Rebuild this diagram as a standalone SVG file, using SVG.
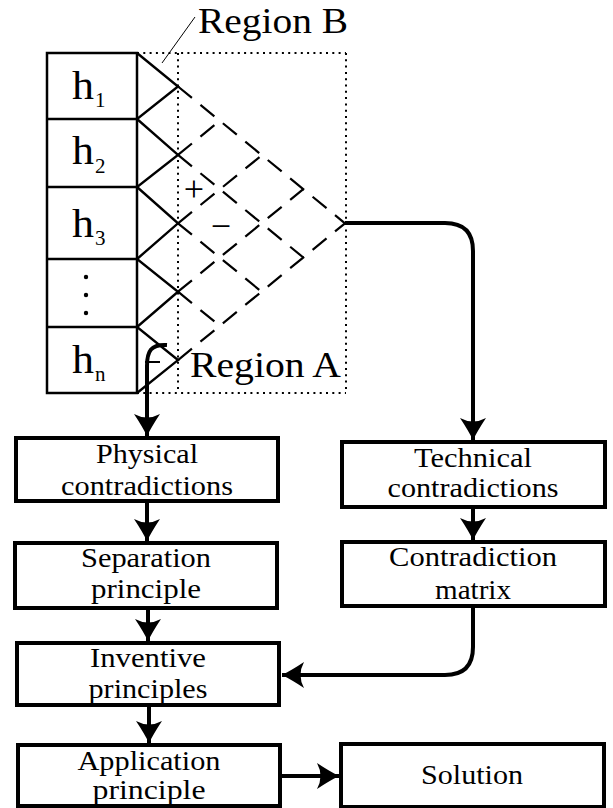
<svg xmlns="http://www.w3.org/2000/svg" width="613" height="808" viewBox="0 0 613 808">
<style>
text{font-family:"Liberation Serif",Tinos,"Times New Roman",Times,"DejaVu Serif",serif;fill:#000}
.box{fill:#fff;stroke:#000;stroke-width:4}
.lbl{font-size:27px;text-anchor:middle}
.big{font-size:35px}
.h{font-size:40px}
.sub{font-size:21px}
.sign{font-size:36px;text-anchor:middle}
.conn{fill:none;stroke:#000;stroke-width:4}
.dash{fill:none;stroke:#000;stroke-width:2.2;stroke-dasharray:18 11}
.dot{fill:none;stroke:#000;stroke-width:2;stroke-dasharray:2 4.3}
.solid{fill:none;stroke:#000;stroke-width:2.4}
</style>
<defs>
<marker id="ah" markerUnits="userSpaceOnUse" markerWidth="40" markerHeight="40" refX="30" refY="20" orient="auto">
<path d="M30,20 Q20,15 8,7 Q15,20 8,33 Q20,25 30,20 Z" fill="#000"/>
</marker>
</defs>
<rect width="613" height="808" fill="#fff"/>

<g id="regions">
<path class="dot" d="M137,53 H346 M178,53 V393 M346,53 V393 M137,393 H346"/>
<line x1="162" y1="63" x2="195" y2="17" stroke="#000" stroke-width="1"/>
<text class="big" x="198" y="33" textLength="150" lengthAdjust="spacingAndGlyphs">Region B</text>
<text class="big" x="190" y="377" textLength="151" lengthAdjust="spacingAndGlyphs">Region A</text>
</g>

<g id="lattice">
<path class="dash" d="M178,86.5 L345,223.3 M178,154.9 L303.3,257.5 M178,223.3 L261.5,291.7 M178,291.7 L219.8,325.9"/>
<path class="dash" d="M178,154.9 L219.8,120.7 M178,223.3 L261.5,155.5 M178,291.7 L303.3,189.1 M178,360.1 L345,223.3"/>
<text class="sign" x="194" y="201">+</text>
<text class="sign" x="221" y="238">−</text>
</g>

<g id="h-column">
<rect x="47" y="53" width="90" height="340" fill="#fff" stroke="#000" stroke-width="2.5"/>
<path d="M47,119 H137 M47,187 H137 M47,259 H137 M47,327 H137" stroke="#000" stroke-width="2.5"/>
<polyline class="solid" points="137,53 178,86.5 137,119 178,154.9 137,187 178,223.3 137,259 178,291.7 137,327 178,360.1 137,393"/>
<text class="h" x="72" y="99" textLength="22" lengthAdjust="spacingAndGlyphs">h</text><text class="sub" x="95" y="107">1</text>
<text class="h" x="72" y="164" textLength="22" lengthAdjust="spacingAndGlyphs">h</text><text class="sub" x="95" y="173">2</text>
<text class="h" x="72" y="237" textLength="22" lengthAdjust="spacingAndGlyphs">h</text><text class="sub" x="95" y="245">3</text>
<circle cx="86" cy="277" r="2.2"/><circle cx="86" cy="295" r="2.2"/><circle cx="86" cy="313" r="2.2"/>
<text class="h" x="72" y="373" textLength="22" lengthAdjust="spacingAndGlyphs">h</text><text class="sub" x="95" y="381">n</text>
</g>

<g id="physical"><rect class="box" x="16" y="438" width="262" height="63"/>
<text class="lbl" x="147" y="463" textLength="102" lengthAdjust="spacingAndGlyphs">Physical</text>
<text class="lbl" x="147" y="495" textLength="172" lengthAdjust="spacingAndGlyphs">contradictions</text></g>

<g id="technical"><rect class="box" x="342" y="442" width="263" height="65"/>
<text class="lbl" x="473" y="467" textLength="118" lengthAdjust="spacingAndGlyphs">Technical</text>
<text class="lbl" x="473" y="497" textLength="171" lengthAdjust="spacingAndGlyphs">contradictions</text></g>

<g id="separation"><rect class="box" x="15" y="543" width="262" height="65"/>
<text class="lbl" x="146" y="567" textLength="130" lengthAdjust="spacingAndGlyphs">Separation</text>
<text class="lbl" x="146" y="598" textLength="110" lengthAdjust="spacingAndGlyphs">principle</text></g>

<g id="contradiction-matrix"><rect class="box" x="342" y="542" width="263" height="64"/>
<text class="lbl" x="473" y="566" textLength="168" lengthAdjust="spacingAndGlyphs">Contradiction</text>
<text class="lbl" x="473" y="599" textLength="76" lengthAdjust="spacingAndGlyphs">matrix</text></g>

<g id="inventive"><rect class="box" x="17" y="643" width="262" height="62"/>
<text class="lbl" x="148" y="667" textLength="116" lengthAdjust="spacingAndGlyphs">Inventive</text>
<text class="lbl" x="148" y="698" textLength="119" lengthAdjust="spacingAndGlyphs">principles</text></g>

<g id="application"><rect class="box" x="18" y="745" width="262" height="61"/>
<text class="lbl" x="149" y="770" textLength="143" lengthAdjust="spacingAndGlyphs">Application</text>
<text class="lbl" x="149" y="799" textLength="113" lengthAdjust="spacingAndGlyphs">principle</text></g>

<g id="solution"><rect class="box" x="341" y="744" width="263" height="63"/>
<text class="lbl" x="472" y="784" textLength="102" lengthAdjust="spacingAndGlyphs">Solution</text></g>

<g id="connectors">
<path class="conn" d="M167,345 C151,344 147,351 147,366 L147,436" marker-end="url(#ah)"/>
<line x1="145" y1="362" x2="160" y2="362" stroke="#000" stroke-width="2"/>
<path class="conn" d="M147,501 L147,541" marker-end="url(#ah)"/>
<path class="conn" d="M148,608 L148,641" marker-end="url(#ah)"/>
<path class="conn" d="M149,705 L149,743" marker-end="url(#ah)"/>
<path class="conn" d="M280,776 L339,776" marker-end="url(#ah)"/>
<path class="conn" d="M345,223 L445,223 Q473,223 473,251 L473,440" marker-end="url(#ah)"/>
<path class="conn" d="M473,507 L473,540" marker-end="url(#ah)"/>
<path class="conn" d="M473,606 L473,647 Q473,675 445,675 L282,675" marker-end="url(#ah)"/>
</g>
</svg>
